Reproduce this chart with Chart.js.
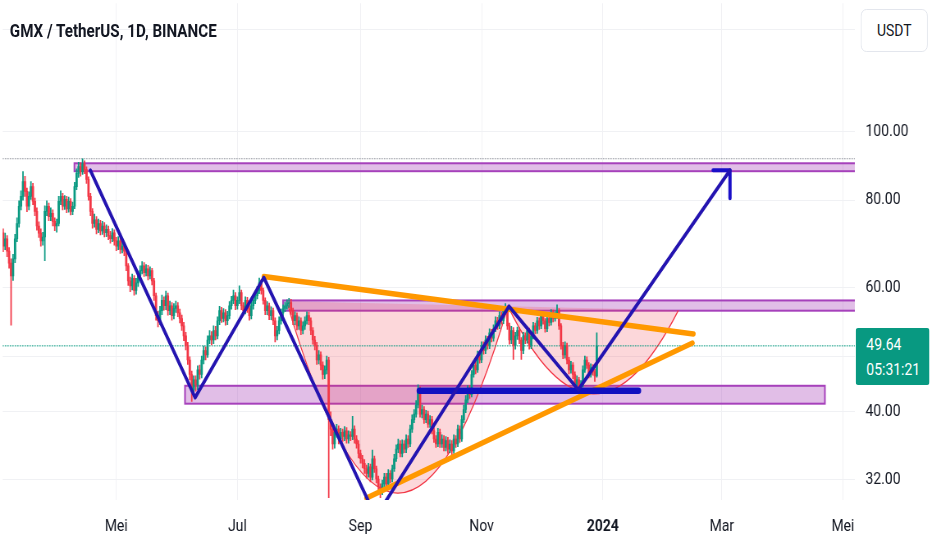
<!DOCTYPE html>
<html>
<head>
<meta charset="utf-8">
<title>GMX / TetherUS, 1D, BINANCE</title>
<script src="https://cdn.jsdelivr.net/npm/chart.js"></script>
<style>
  html, body { margin: 0; padding: 0; background: #fff; overflow: hidden; }
  /* the whole chart is laid out 1136 wide and squeezed to 932 like the screenshot */
  #wrap { position: absolute; left: 0; top: 0; width: 1136px; height: 550px;
          transform: scaleX(0.8204); transform-origin: 0 0;
          font-family: Roboto, sans-serif; color: #131722; }
  #box { position: absolute; left: 0; top: 0; width: 1136px; height: 550px; }
  #title { position: absolute; left: 12px; top: 20px; font-size: 18.5px; font-weight: bold;
           line-height: 22px; white-space: nowrap; }
  #unit { position: absolute; left: 1049px; top: 9px; width: 82px; height: 43px; box-sizing: border-box;
          border: 1px solid #e0e3eb; border-radius: 7px; background: #fff;
          font-size: 17px; line-height: 41px; text-align: center; }
  #last { position: absolute; left: 1043px; top: 328px; width: 90px; height: 57px; box-sizing: border-box;
          background: #089981; color: #fff; border-radius: 3px; padding: 4px 0 0 13px;
          font-size: 17px; line-height: 25px; }
</style>
</head>
<body>
<div id="wrap">
  <div id="box"><canvas id="chart"></canvas></div>
  <div id="title">GMX / TetherUS, 1D, BINANCE</div>
  <div id="unit">USDT</div>
  <div id="last"><div id="lastPrice"></div><div id="lastTimer"></div></div>
</div>
<script>
// days are counted from 1 Jan 2023, first candle is 3 Mar 2023
var startDay = 61;
var firstOpen = 69.0;

// daily closes
var closes = [
  70.0, 71.9, 68.8, 70.5, 67.7, 65.1, 62.4, 66.0, 70.5, 74.1,
  78.4, 81.0, 85.0, 82.3, 78.4, 81.0, 83.6, 79.7, 77.1, 73.5,
  71.8, 70.0, 70.9, 77.1, 78.4, 75.8, 76.6, 74.6, 73.5, 74.1,
  79.7, 81.0, 78.4, 80.2, 77.7, 79.7, 77.1, 78.4, 83.6, 87.3,
  89.3, 87.8, 90.1, 88.4, 85.6, 81.0, 77.1, 74.1, 75.0, 72.7,
  74.1, 72.3, 73.5, 71.9, 72.7, 71.2, 70.5, 71.9, 70.0, 68.8,
  70.0, 68.1, 68.8, 67.7, 64.5, 61.4, 60.4, 61.9, 59.5, 61.0,
  62.4, 63.5, 64.5, 63.1, 63.9, 62.4, 63.5, 61.4, 58.5, 54.8,
  53.9, 55.7, 57.6, 56.6, 58.5, 55.7, 56.6, 54.8, 56.1, 56.6,
  55.3, 54.3, 53.0, 51.3, 49.7, 47.4, 45.2, 43.0, 44.4, 43.7,
  45.9, 45.2, 47.4, 48.9, 48.2, 50.6, 51.3, 50.6, 52.2, 51.3,
  53.9, 55.7, 54.3, 55.3, 53.9, 54.8, 56.6, 57.6, 58.5, 56.6,
  57.6, 59.1, 56.6, 55.7, 57.6, 56.1, 54.8, 56.6, 57.6, 58.5,
  59.5, 61.0, 59.5, 57.6, 55.7, 56.6, 54.8, 55.7, 53.9, 51.3,
  52.2, 53.9, 55.3, 56.1, 56.6, 57.0, 57.2, 55.7, 53.9, 54.8,
  53.0, 53.9, 52.2, 53.0, 53.9, 54.8, 53.9, 52.2, 50.6, 49.7,
  47.4, 48.2, 46.6, 45.2, 45.9, 47.4, 39.0, 37.8, 36.0, 37.4,
  37.8, 36.6, 37.4, 36.9, 37.6, 36.6, 37.1, 36.9, 37.8, 36.6,
  36.0, 34.9, 34.3, 33.8, 33.2, 32.7, 33.4, 32.3, 34.3, 33.2,
  32.1, 31.3, 30.9, 31.6, 32.3, 31.6, 32.7, 32.1, 33.2, 34.3,
  35.4, 36.0, 34.9, 36.0, 35.4, 36.6, 36.0, 37.8, 39.0, 39.7,
  40.9, 43.0, 39.7, 40.3, 39.0, 39.7, 38.4, 39.0, 37.6, 36.6,
  36.0, 37.4, 36.0, 36.6, 35.6, 36.4, 35.4, 36.0, 35.2, 36.6,
  36.0, 37.8, 36.6, 39.0, 40.3, 41.6, 43.0, 42.3, 45.2, 46.6,
  45.9, 48.2, 47.4, 49.7, 48.9, 50.6, 49.7, 51.8, 50.9, 52.5,
  53.9, 53.0, 54.8, 53.9, 55.7, 56.1, 53.0, 50.6, 52.2, 49.7,
  51.3, 52.2, 50.6, 48.9, 51.3, 50.6, 52.2, 49.7, 51.3, 53.0,
  52.2, 53.9, 53.0, 54.8, 53.9, 52.5, 54.3, 53.6, 55.3, 54.3,
  54.8, 55.7, 53.0, 49.7, 48.2, 49.7, 47.4, 45.9, 46.6, 45.2,
  43.7, 44.4, 43.0, 43.7, 45.9, 47.4, 46.6, 45.2, 46.2, 45.6,
  45.0, 49.64
];

var highs = [
  71.5, 73.0, 72.8, 71.8, 71.2, 68.5, 66.0, 67.0, 71.5, 75.5,
  79.8, 82.5, 87.8, 86.5, 83.2, 82.2, 85.0, 84.5, 80.5, 78.0,
  74.5, 72.8, 72.0, 78.5, 79.8, 79.2, 78.0, 77.5, 75.5, 75.2,
  81.0, 82.5, 81.8, 81.2, 81.0, 80.8, 80.4, 79.5, 84.8, 88.6,
  90.5, 90.4, 91.6, 91.0, 89.2, 86.3, 81.8, 77.8, 76.4, 75.8,
  75.2, 74.9, 74.6, 74.3, 73.8, 73.5, 72.2, 72.9, 72.6, 70.8,
  71.0, 70.8, 69.8, 69.5, 68.2, 65.0, 62.2, 62.8, 62.5, 61.9,
  63.3, 64.5, 65.4, 65.2, 64.8, 64.6, 64.3, 64.0, 61.9, 59.0,
  55.6, 56.5, 58.6, 58.3, 59.4, 59.0, 57.5, 57.2, 57.0, 57.5,
  57.2, 56.0, 54.9, 53.6, 51.9, 50.2, 47.9, 45.7, 45.0, 45.0,
  46.5, 46.6, 48.0, 49.6, 49.5, 51.3, 52.2, 52.0, 53.0, 52.9,
  54.6, 56.5, 56.3, 56.1, 55.9, 55.6, 57.4, 58.4, 59.6, 59.1,
  58.3, 60.4, 59.6, 57.2, 58.3, 58.2, 56.7, 57.3, 58.3, 59.3,
  60.3, 62.0, 61.6, 60.0, 58.1, 57.4, 57.1, 56.4, 56.2, 54.4,
  52.9, 54.6, 56.0, 56.8, 57.3, 57.7, 58.0, 57.8, 56.2, 55.5,
  55.3, 54.6, 54.4, 53.7, 54.6, 55.5, 55.4, 54.4, 52.7, 51.2,
  50.2, 48.9, 48.7, 47.1, 46.5, 48.0, 47.8, 40.0, 38.3, 37.9,
  38.4, 38.2, 37.9, 37.8, 38.1, 38.0, 37.6, 37.5, 39.4, 38.2,
  37.0, 36.4, 35.3, 34.7, 34.2, 33.6, 33.8, 33.7, 35.3, 34.6,
  33.5, 32.4, 31.6, 32.0, 32.7, 32.7, 33.1, 33.0, 33.6, 34.8,
  35.9, 36.6, 36.4, 36.5, 36.4, 37.1, 37.0, 38.3, 39.6, 40.3,
  41.5, 43.7, 43.4, 40.9, 40.7, 40.2, 40.1, 39.5, 39.4, 38.0,
  37.0, 37.9, 37.8, 37.1, 37.0, 36.9, 36.8, 36.5, 36.4, 37.1,
  37.0, 38.3, 38.2, 39.5, 40.9, 42.2, 43.6, 43.6, 45.8, 47.2,
  47.2, 48.8, 48.8, 50.3, 50.3, 51.3, 51.2, 52.5, 52.4, 53.2,
  54.6, 54.5, 55.5, 55.4, 56.4, 57.0, 56.6, 53.5, 52.9, 52.7,
  51.9, 52.8, 52.7, 51.0, 51.9, 51.8, 52.8, 52.6, 51.9, 53.6,
  53.5, 54.5, 54.4, 55.4, 55.3, 54.3, 54.9, 54.8, 55.9, 55.8,
  55.5, 56.8, 56.1, 53.4, 50.2, 50.3, 50.1, 47.8, 47.2, 47.0,
  45.6, 45.0, 44.8, 44.3, 46.5, 48.0, 47.9, 47.0, 46.8, 46.7,
  46.0, 51.8
];

var lows = [
  68.0, 69.0, 67.6, 68.0, 66.5, 64.0, 53.1, 61.5, 65.2, 69.8,
  73.2, 77.5, 80.0, 81.0, 77.0, 77.5, 80.2, 78.8, 76.0, 72.5,
  70.8, 68.8, 69.0, 65.6, 76.0, 74.8, 74.8, 73.5, 72.4, 72.0,
  73.5, 78.8, 77.5, 77.6, 76.8, 76.9, 76.2, 76.3, 77.8, 82.8,
  86.2, 86.5, 87.0, 87.2, 84.5, 80.0, 76.0, 73.0, 73.2, 71.6,
  71.9, 71.4, 71.5, 70.9, 71.0, 70.3, 69.5, 69.8, 69.0, 67.8,
  68.0, 67.2, 67.3, 66.7, 63.5, 60.5, 59.3, 59.6, 58.6, 58.8,
  60.3, 61.8, 62.8, 62.3, 62.4, 61.6, 61.8, 60.6, 57.6, 54.0,
  52.8, 53.2, 55.0, 55.8, 55.9, 54.9, 55.0, 54.0, 54.2, 55.4,
  54.6, 53.5, 52.2, 50.5, 49.0, 46.7, 44.4, 41.4, 42.3, 42.8,
  43.0, 44.5, 44.7, 46.8, 47.4, 47.8, 50.0, 49.8, 50.0, 50.6,
  50.8, 53.2, 53.6, 53.7, 53.1, 53.2, 54.2, 56.0, 57.0, 55.9,
  56.0, 57.0, 55.9, 54.9, 55.1, 55.4, 54.0, 54.2, 56.0, 57.0,
  57.9, 58.9, 58.8, 56.9, 55.0, 55.0, 54.1, 54.1, 53.2, 50.3,
  50.6, 51.6, 53.3, 54.7, 55.5, 56.0, 56.3, 55.0, 53.2, 53.2,
  52.3, 52.4, 51.5, 51.6, 52.4, 53.3, 53.2, 51.5, 49.9, 49.0,
  46.7, 46.8, 45.9, 44.5, 44.6, 45.3, 30.2, 37.0, 35.4, 35.5,
  36.8, 36.0, 36.1, 36.3, 36.4, 36.1, 36.1, 36.4, 36.5, 36.1,
  35.5, 34.4, 33.8, 33.3, 32.7, 32.2, 32.3, 31.8, 32.0, 32.8,
  31.7, 30.9, 30.2, 30.5, 31.2, 31.2, 31.3, 31.7, 31.8, 32.9,
  34.0, 35.0, 34.5, 34.5, 35.0, 35.0, 35.6, 35.7, 37.4, 38.6,
  39.3, 40.5, 39.3, 39.2, 38.5, 38.6, 38.0, 38.0, 37.2, 36.2,
  35.6, 35.7, 35.6, 35.6, 35.2, 35.2, 34.9, 35.0, 34.7, 34.9,
  35.6, 35.7, 36.2, 36.3, 38.6, 39.9, 41.2, 41.8, 42.0, 44.8,
  45.3, 45.5, 46.9, 47.0, 48.3, 48.4, 49.1, 49.2, 50.3, 50.4,
  52.0, 52.4, 52.5, 53.3, 53.4, 55.1, 52.4, 49.9, 50.0, 47.5,
  49.1, 50.7, 50.0, 47.5, 48.4, 50.0, 50.1, 49.1, 49.2, 50.8,
  51.6, 51.7, 52.4, 52.5, 53.3, 51.9, 52.0, 53.0, 53.1, 53.7,
  53.8, 54.3, 52.4, 49.1, 47.6, 47.7, 46.8, 45.3, 45.4, 44.6,
  43.1, 43.2, 42.5, 42.6, 43.4, 45.5, 46.1, 44.7, 44.8, 45.1,
  44.2, 44.8
];

var lastPrice = 49.64;
var lastTimer = '05:31:21';
var athPrice = 91.6;

// axis ticks
var monthTicks = [120, 181, 243, 304, 365, 425, 486];
var monthLabels = ['Mei', 'Jul', 'Sep', 'Nov', '2024', 'Mar', 'Mei'];
var priceTicks = [32, 40, 48, 60, 80, 100, 140];
var dayMin = 62.77, dayMax = 492;
var priceMin = 29.97, priceMax = 152.4;

// drawings, in [day, price]
var zigzag = [[106.9, 88.2], [159.7, 41.9], [194.3, 62.1], [250.7, 28.35], [317.8, 56.5], [352.7, 43.0], [429.1, 88.2]];
var arrowHead = [[420.6, 88.2], [429.1, 88.2], [429.1, 80.5]];
var orangeTop = [[194.3, 62.3], [410.7, 51.6]];
var orangeLow = [[246.0, 30.16], [410.2, 50.1]];
var supportBar = [[272.6, 42.85], [383.0, 42.85]];
// zones: day from, day to, price top, price bottom
var zones = [[98.9, 500, 90.25, 87.94], [204.0, 500, 57.6, 55.7], [154.6, 476.9, 43.56, 41.08]];
// arcs: start, lowest point, end
var arcs = [
  [[205.8, 57.43], [261.6, 30.65], [317.3, 56.5]],
  [[317.3, 56.5], [360.0, 42.44], [403.1, 55.77]]
];

document.getElementById('lastPrice').textContent = lastPrice.toFixed(2);
document.getElementById('lastTimer').textContent = lastTimer;

// open of each day is the close of the day before
var opens = closes.map(function (c, i) { return i === 0 ? firstOpen : closes[i - 1]; });
var candleColors = closes.map(function (c, i) { return c >= opens[i] ? '#089981' : '#f23645'; });

function pts(list) {
  return list.map(function (p) { return { x: p[0], y: p[1] }; });
}

function lineSet(list, color, width, order, dash) {
  return {
    type: 'line',
    data: pts(list),
    borderColor: color,
    borderWidth: width,
    borderDash: dash || [],
    borderCapStyle: 'round',
    borderJoinStyle: 'round',
    pointRadius: 0,
    fill: false,
    tension: 0,
    clip: 0,
    order: order
  };
}

// zones and arcs go under the candles
var drawings = {
  id: 'drawings',
  beforeDatasetsDraw: function (chart) {
    var ctx = chart.ctx, a = chart.chartArea, x = chart.scales.x, y = chart.scales.y;
    ctx.save();
    ctx.beginPath();
    ctx.rect(a.left, a.top, a.right - a.left, a.bottom - a.top);
    ctx.clip();

    zones.forEach(function (z) {
      var x1 = x.getPixelForValue(z[0]), x2 = x.getPixelForValue(z[1]);
      var y1 = y.getPixelForValue(z[2]), y2 = y.getPixelForValue(z[3]);
      ctx.fillStyle = 'rgba(156,39,176,0.3)';
      ctx.fillRect(x1, y1, x2 - x1, y2 - y1);
      ctx.strokeStyle = '#a641bb';
      ctx.lineWidth = 2;
      ctx.strokeRect(x1, y1, x2 - x1, y2 - y1);
    });

    arcs.forEach(function (arc) {
      var p = arc.map(function (q) { return [x.getPixelForValue(q[0]), y.getPixelForValue(q[1])]; });
      var cx = 2 * p[1][0] - (p[0][0] + p[2][0]) / 2;
      var cy = 2 * p[1][1] - (p[0][1] + p[2][1]) / 2;
      ctx.beginPath();
      ctx.moveTo(p[0][0], p[0][1]);
      ctx.quadraticCurveTo(cx, cy, p[2][0], p[2][1]);
      ctx.closePath();
      ctx.fillStyle = 'rgba(242,54,69,0.2)';
      ctx.fill();
      ctx.beginPath();
      ctx.moveTo(p[0][0], p[0][1]);
      ctx.quadraticCurveTo(cx, cy, p[2][0], p[2][1]);
      ctx.strokeStyle = '#f23645';
      ctx.lineWidth = 1.3;
      ctx.stroke();
    });
    ctx.restore();
  }
};

var ctx = document.getElementById('chart').getContext('2d');
var chart = new Chart(ctx, {
  type: 'bar',
  data: {
    datasets: [
      lineSet([[dayMin, athPrice], [dayMax, athPrice]], '#9598a1', 1, 30, [1, 2]),
      lineSet([[dayMin, lastPrice], [dayMax, lastPrice]], '#089981', 1, 30, [1, 2]),
      // wicks
      {
        data: closes.map(function (c, i) { return { x: startDay + i, y: [lows[i], highs[i]] }; }),
        backgroundColor: candleColors,
        barThickness: 1.1,
        grouped: false,
        clip: 0,
        order: 20
      },
      // bodies
      {
        data: closes.map(function (c, i) { return { x: startDay + i, y: [opens[i], c] }; }),
        backgroundColor: candleColors,
        barThickness: 2.1,
        grouped: false,
        clip: 0,
        order: 19
      },
      lineSet(orangeTop, '#ff9800', 5.5, 5),
      lineSet(orangeLow, '#ff9800', 5.5, 5),
      lineSet(supportBar, '#1010c0', 6.5, 4),
      lineSet(zigzag, '#2414b0', 3.8, 3),
      lineSet(arrowHead, '#1a0fc8', 4, 3)
    ]
  },
  options: {
    responsive: true,
    maintainAspectRatio: false,
    animation: false,
    layout: { padding: 0 },
    plugins: {
      legend: { display: false },
      tooltip: { enabled: false }
    },
    scales: {
      x: {
        type: 'linear',
        min: dayMin,
        max: dayMax,
        bounds: 'data',
        offset: false,
        border: { display: false },
        grid: { color: '#f0f1f4', offset: false, drawTicks: false },
        ticks: {
          padding: 17,
          color: '#131722',
          autoSkip: false,
          maxRotation: 0,
          font: function (c) {
            var bold = c.tick && c.tick.value === 365;
            return { family: 'Roboto', size: 17, weight: bold ? 'bold' : 'normal' };
          },
          callback: function (v) { return monthLabels[monthTicks.indexOf(v)]; }
        },
        afterBuildTicks: function (s) { s.ticks = monthTicks.map(function (v) { return { value: v }; }); },
        afterFit: function (s) { s.height = 50; s.paddingLeft = 0; s.paddingRight = 0; }
      },
      y: {
        type: 'logarithmic',
        position: 'right',
        min: priceMin,
        max: priceMax,
        bounds: 'data',
        border: { display: false },
        grid: { color: '#f0f1f4', drawTicks: false },
        ticks: {
          padding: 13,
          color: '#131722',
          autoSkip: false,
          font: { family: 'Roboto', size: 17 },
          callback: function (v) { return Number(v).toFixed(2); }
        },
        afterBuildTicks: function (s) { s.ticks = priceTicks.map(function (v) { return { value: v }; }); },
        afterFit: function (s) { s.width = 94; s.paddingTop = 0; s.paddingBottom = 0; }
      }
    }
  },
  plugins: [drawings]
});
</script>
</body>
</html>
